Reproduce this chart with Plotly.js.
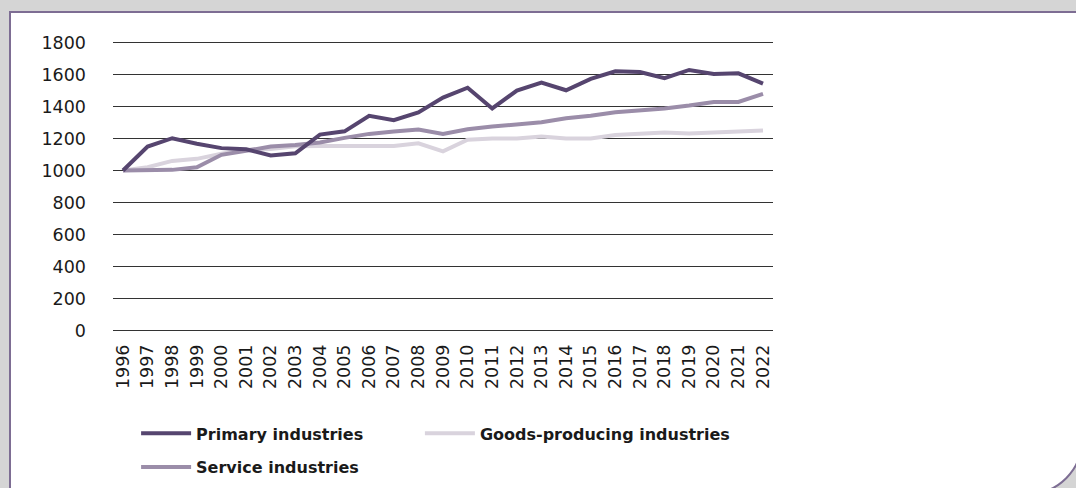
<!DOCTYPE html>
<html>
<head>
<meta charset="utf-8">
<script src="https://cdn.plot.ly/plotly-3.0.1.min.js"></script>
<style>
  html, body { margin: 0; padding: 0; width: 1076px; height: 488px; overflow: hidden; background: #d5d5d5; }
  #panel { position: absolute; left: 9px; top: 11px; width: 1070px; height: 480px;
           background: #ffffff; border: 2px solid #7d6d93; border-bottom-right-radius: 55px; }
  #chart { position: absolute; left: 0; top: 0; width: 1076px; height: 488px; }
</style>
</head>
<body>
<div id="panel"></div>
<div id="chart"></div>
<script>
const years = [1996,1997,1998,1999,2000,2001,2002,2003,2004,2005,2006,2007,2008,2009,2010,2011,2012,2013,2014,2015,2016,2017,2018,2019,2020,2021,2022];
const yearLabels = years.map(String);
const primary = [1000,1150,1202,1167,1140,1133,1094,1108,1225,1245,1342,1315,1363,1456,1518,1388,1500,1550,1502,1573,1621,1616,1578,1629,1604,1608,1544];
const goods   = [1000,1020,1060,1073,1105,1130,1135,1152,1154,1154,1154,1154,1170,1120,1192,1200,1200,1212,1200,1200,1222,1232,1237,1231,1237,1240,1250];
const service = [1000,1000,1004,1020,1098,1123,1150,1160,1175,1204,1229,1244,1256,1229,1258,1275,1290,1302,1327,1342,1364,1375,1388,1406,1429,1429,1479];
const yTicks = [0,200,400,600,800,1000,1200,1400,1600,1800];

const seriesNames = ['Primary industries','Goods-producing industries','Service industries'];
const colors = ['#56456f','#d9d3dd','#9b8da9'];

const traces = [
  {x: years, y: goods, name: seriesNames[1], legend: 'legend2', legendgroup: 'g', line: {color: colors[1], width: 4}},
  {x: years, y: service, name: seriesNames[2], legend: 'legend', legendgroup: 's', legendrank: 2, line: {color: colors[2], width: 4}},
  {x: years, y: primary, name: seriesNames[0], legend: 'legend', legendgroup: 'p', legendrank: 1, line: {color: colors[0], width: 4}}
].map(t => Object.assign({type: 'scatter', mode: 'lines', hoverinfo: 'skip'}, t));

const tickFont = {family: '"DejaVu Sans", sans-serif', size: 17.5, color: '#1a1a1a'};
const legFont = {family: '"DejaVu Sans", sans-serif', size: 16, color: '#1a1a1a', weight: 'bold'};

const layout = {
  width: 1076, height: 488,
  paper_bgcolor: 'rgba(0,0,0,0)', plot_bgcolor: 'rgba(0,0,0,0)',
  margin: {l: 113, r: 303, t: 41.4, b: 156.4, autoexpand: false},
  font: {family: '"DejaVu Sans", sans-serif', color: '#1a1a1a'},
  showlegend: true,
  xaxis: {
    range: [1995.594, 2022.406], tickmode: 'array', tickvals: years, ticktext: yearLabels,
    tickangle: -90, showgrid: false, zeroline: false, showline: false, ticks: '',
    tickfont: tickFont, ticklabelstandoff: 8
  },
  yaxis: {
    range: [-10, 1810], tickmode: 'array', tickvals: yTicks,
    showgrid: true, gridcolor: '#333333', gridwidth: 1, zeroline: false, showline: false, ticks: '',
    tickfont: tickFont, ticklabelstandoff: 26
  },
  legend: {
    orientation: 'v', x: 0.035, xanchor: 'left', y: -0.29, yanchor: 'top',
    font: legFont, traceorder: 'grouped', tracegroupgap: 10, itemwidth: 50,
    bgcolor: 'rgba(0,0,0,0)'
  },
  legend2: {
    orientation: 'v', x: 0.465, xanchor: 'left', y: -0.29, yanchor: 'top',
    font: legFont, itemwidth: 50, bgcolor: 'rgba(0,0,0,0)'
  }
};

Plotly.newPlot('chart', traces, layout, {displayModeBar: false, staticPlot: true});
</script>
</body>
</html>
